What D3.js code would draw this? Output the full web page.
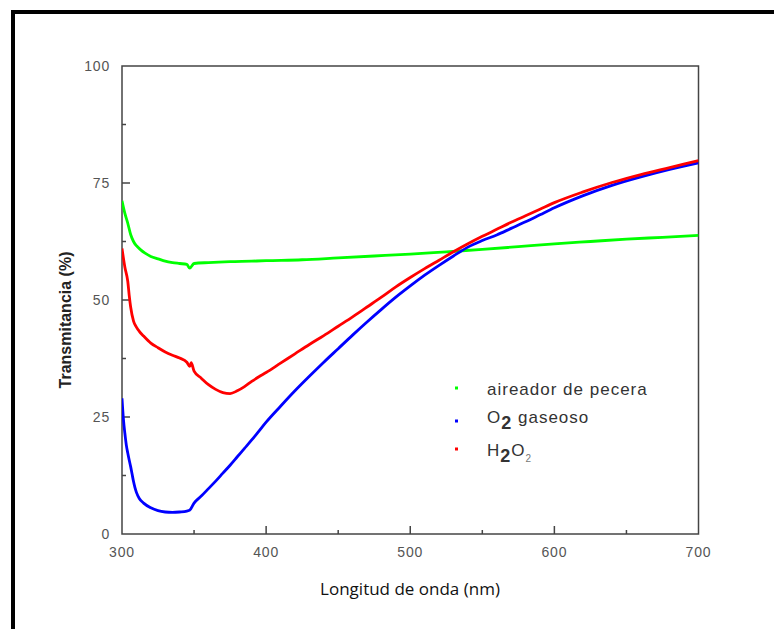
<!DOCTYPE html>
<html><head><meta charset="utf-8">
<script src="https://cdn.jsdelivr.net/npm/d3@7"></script>
<style>html,body{margin:0;padding:0;background:#fff;}svg{display:block;}</style>
</head><body>
<svg id="c" width="774" height="629"></svg>
<script>
// ---- data ----
const aireadorNm = [300,302,304,306,308,310,313,316,320,325,330,335,340,345,347,350,360,375,390,400,425,450,475,500,525,550,575,600,625,650,675,700];
const aireadorT  = [71.2,68.5,66.4,64.0,62.5,61.6,60.7,60.0,59.3,58.8,58.3,58.0,57.8,57.6,56.8,57.8,58.0,58.2,58.3,58.4,58.6,59.0,59.4,59.8,60.3,60.8,61.4,62.0,62.5,63.0,63.4,63.8];

const o2Nm = [300,301,302,303,304,305,306,307,308,309,310,312,315,320,325,330,335,340,345,347,350,355,360,365,370,375,380,385,390,395,400,410,420,430,440,450,460,470,480,490,500,510,520,530,540,550,560,570,580,590,600,620,640,660,680,700];
const o2T  = [29.0,24.5,21.5,19.0,17.3,15.8,14.4,12.8,11.2,9.9,8.9,7.6,6.6,5.6,5.0,4.7,4.6,4.7,4.9,5.1,6.6,8.1,9.7,11.3,13.0,14.7,16.5,18.3,20.1,22.0,23.9,27.3,30.6,33.7,36.7,39.6,42.5,45.3,48.0,50.6,53.0,55.3,57.4,59.4,61.3,62.7,63.9,65.3,66.7,68.2,69.7,72.3,74.5,76.3,77.9,79.3];

const h2o2Nm = [300,302,304,305,306,308,310,312,315,320,325,330,335,340,345,347,348,350,355,360,365,370,375,380,385,390,395,400,410,420,430,440,450,460,470,480,490,500,510,520,530,540,550,560,570,580,590,600,620,640,660,680,700];
const h2o2T  = [61.0,57.0,54.0,51.0,48.5,45.5,44.2,43.3,42.3,40.8,39.8,38.9,38.2,37.6,36.7,35.8,36.6,34.8,33.3,31.9,30.9,30.2,30.0,30.6,31.5,32.6,33.6,34.5,36.5,38.5,40.5,42.4,44.4,46.4,48.5,50.6,52.8,54.8,56.7,58.5,60.3,62.0,63.6,65.1,66.6,68.0,69.4,70.8,73.1,75.1,76.8,78.3,79.8];

const xTicks = [300,400,500,600,700];
const xMinor = [350,450,550,650];
const yTicks = [0,25,50,75,100];
const yMinor = [12.5,37.5,62.5,87.5];
const seriesNames = ["aireador de pecera","O2 gaseoso","H2O2"];
const seriesColors = ["#00ff00","#0000ff","#ff0000"];

// ---- drawing ----
const svg = d3.select("#c");
const L = 122, R = 698.5, T = 66, B = 534;
const x = d3.scaleLinear().domain([300,700]).range([L,R]);
const y = d3.scaleLinear().domain([0,100]).range([B,T]);

// outer frame
svg.append("path").attr("d","M13,629 L13,12 L774,12")
  .attr("fill","none").attr("stroke","#000").attr("stroke-width",4);

// plot box
svg.append("rect").attr("x",L).attr("y",T).attr("width",R-L).attr("height",B-T)
  .attr("fill","none").attr("stroke","#444").attr("stroke-width",1.5);

// y axis ticks (inward)
const gy = svg.append("g").attr("transform",`translate(${L},0)`);
gy.selectAll("line.maj").data(yTicks.filter(d=>d>0&&d<100)).join("line")
  .attr("x1",0).attr("x2",8).attr("y1",d=>y(d)).attr("y2",d=>y(d))
  .attr("stroke","#444").attr("stroke-width",1.5);
gy.selectAll("line.min").data(yMinor).join("line").attr("class","min")
  .attr("x1",0).attr("x2",4).attr("y1",d=>y(d)).attr("y2",d=>y(d))
  .attr("stroke","#444").attr("stroke-width",1.5);
svg.append("g").selectAll("text").data(yTicks).join("text")
  .attr("x",110).attr("y",d=>y(d)+5).attr("text-anchor","end")
  .attr("font-family","Liberation Sans, Arial, sans-serif").attr("font-size",14)
  .attr("letter-spacing",0.8).attr("fill","#555").text(d=>d);

// x axis ticks (inward)
const gx = svg.append("g").attr("transform",`translate(0,${B})`);
gx.selectAll("line.maj").data(xTicks.filter(d=>d>300&&d<700)).join("line")
  .attr("y1",0).attr("y2",-8).attr("x1",d=>x(d)).attr("x2",d=>x(d))
  .attr("stroke","#444").attr("stroke-width",1.5);
gx.selectAll("line.min").data(xMinor).join("line").attr("class","min")
  .attr("y1",0).attr("y2",-4).attr("x1",d=>x(d)).attr("x2",d=>x(d))
  .attr("stroke","#444").attr("stroke-width",1.5);
svg.append("g").selectAll("text").data(xTicks).join("text")
  .attr("x",d=>x(d)).attr("y",557).attr("text-anchor","middle")
  .attr("font-family","Liberation Sans, Arial, sans-serif").attr("font-size",14)
  .attr("letter-spacing",0.8).attr("fill","#555").text(d=>d);

// axis titles
svg.append("text").attr("x",410).attr("y",595).attr("text-anchor","middle")
  .attr("font-family","Open Sans, Lato, sans-serif").attr("font-size",17)
  .attr("fill","#111").text("Longitud de onda (nm)");
svg.append("text").attr("transform","translate(71,320) rotate(-90)").attr("text-anchor","middle")
  .attr("font-family","Liberation Sans, Arial, sans-serif").attr("font-size",16).attr("font-weight","bold")
  .attr("fill","#222").text("Transmitancia (%)");

// curves
const line = d3.line().x(d=>x(d[0])).y(d=>y(d[1])).curve(d3.curveMonotoneX);
const series = [
  {nm:aireadorNm, t:aireadorT},
  {nm:o2Nm, t:o2T},
  {nm:h2o2Nm, t:h2o2T}
];
svg.append("clipPath").attr("id","pc").append("rect")
  .attr("x",L).attr("y",T).attr("width",R-L).attr("height",B-T);
const gc = svg.append("g").attr("clip-path","url(#pc)");
series.forEach((s,i)=>{
  const pts = s.nm.map((v,j)=>[v,s.t[j]]);
  gc.append("path").datum(pts).attr("d",line).attr("fill","none")
    .attr("stroke",seriesColors[i]).attr("stroke-width",2.8);
});

// legend
const lg = svg.append("g").attr("font-family","Liberation Sans, Arial, sans-serif").attr("fill","#333");
const markerY = [388, 421, 449];
const textY = [395, 423, 456];
seriesColors.forEach((c,i)=>{
  lg.append("rect").attr("x",455).attr("y",markerY[i]-1.5).attr("width",3).attr("height",3).attr("fill",c);
});
lg.append("text").attr("x",487).attr("y",textY[0]).attr("font-size",17).attr("letter-spacing",1).text(seriesNames[0]);
const t1 = lg.append("text").attr("x",487).attr("y",textY[1]).attr("font-size",17).attr("letter-spacing",1);
t1.append("tspan").text("O");
t1.append("tspan").attr("font-size",18).attr("font-weight","bold").attr("dy",6).text("2");
t1.append("tspan").attr("dy",-6).text(" gaseoso");
const t2 = lg.append("text").attr("x",487).attr("y",textY[2]).attr("font-size",17).attr("letter-spacing",1);
t2.append("tspan").text("H");
t2.append("tspan").attr("font-size",18).attr("font-weight","bold").attr("dy",6).text("2");
t2.append("tspan").attr("dy",-6).text("O");
t2.append("tspan").attr("font-size",10).attr("fill","#777").attr("dy",6).text("2");
</script>
</body></html>
